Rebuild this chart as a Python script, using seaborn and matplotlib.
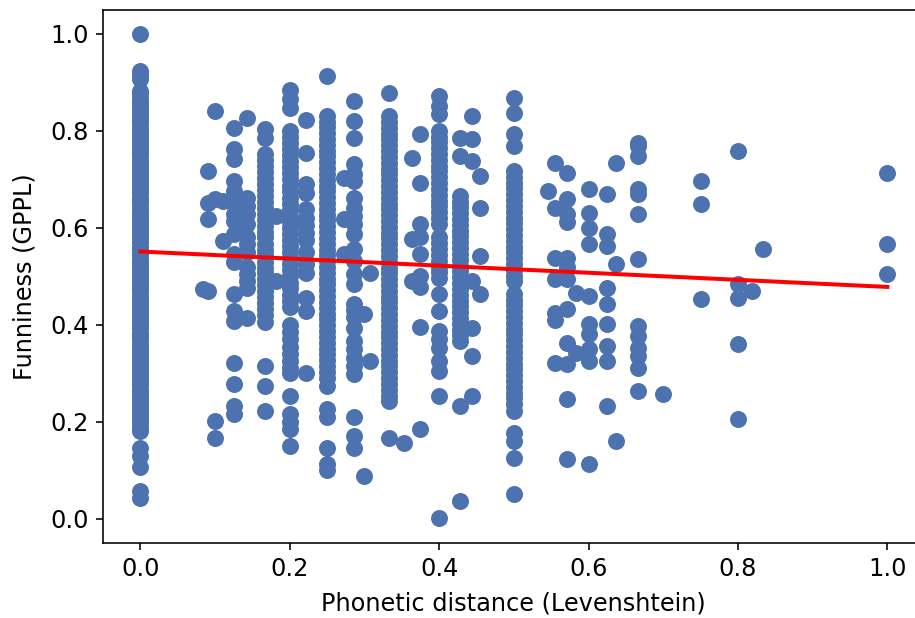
import numpy as np
import pandas as pd
import matplotlib
matplotlib.use("Agg")
import matplotlib.pyplot as plt
import seaborn as sns

# ---- data: funniness values per phonetic-distance column ----
y_d0 = [1.0, 0.924, 0.915, 0.907, 0.882, 0.875, 0.866, 0.858, 0.85, 0.84, 0.832, 0.825,
        0.815, 0.806, 0.798, 0.79, 0.781, 0.772, 0.765, 0.756, 0.747, 0.738, 0.73, 0.722,
        0.713, 0.705, 0.696, 0.688, 0.679, 0.671, 0.662, 0.655, 0.646, 0.637, 0.629, 0.62,
        0.612, 0.603, 0.595, 0.587, 0.578, 0.57, 0.561, 0.553, 0.545, 0.536, 0.528, 0.519,
        0.511, 0.502, 0.494, 0.486, 0.477, 0.469, 0.46, 0.452, 0.443, 0.435, 0.427, 0.418,
        0.41, 0.401, 0.393, 0.384, 0.376, 0.368, 0.359, 0.351, 0.342, 0.334, 0.325, 0.317,
        0.309, 0.3, 0.292, 0.283, 0.275, 0.266, 0.258, 0.25, 0.241, 0.233, 0.224, 0.216,
        0.207, 0.199, 0.19, 0.181, 0.145, 0.13, 0.107, 0.058, 0.043]
y_d1_12 = [0.474]
y_d1_11 = [0.717, 0.652, 0.619, 0.47]
y_d1_10 = [0.841, 0.66, 0.202, 0.167]
y_d1_9 = [0.573, 0.655]
y_d1_8 = [0.806, 0.763, 0.742, 0.697, 0.676, 0.649, 0.629, 0.614, 0.588, 0.545, 0.53,
          0.464, 0.429, 0.408, 0.322, 0.278, 0.233, 0.216]
y_d1_7 = [0.827, 0.662, 0.645, 0.628, 0.608, 0.58, 0.567, 0.55, 0.52, 0.505, 0.49, 0.476, 0.414]
y_d1_6 = [0.804, 0.786, 0.752, 0.74, 0.728, 0.715, 0.703, 0.69, 0.678, 0.665, 0.653, 0.641,
          0.628, 0.616, 0.604, 0.592, 0.58, 0.567, 0.555, 0.543, 0.53, 0.518, 0.506, 0.494,
          0.481, 0.469, 0.457, 0.445, 0.432, 0.42, 0.405, 0.315, 0.274, 0.223]
y_d2_11 = [0.625, 0.49]
y_d1_5 = [0.885, 0.866, 0.846, 0.8, 0.788, 0.775, 0.762, 0.75, 0.737, 0.725, 0.712, 0.7,
          0.687, 0.675, 0.662, 0.65, 0.637, 0.625, 0.612, 0.6, 0.587, 0.575, 0.562, 0.55,
          0.537, 0.525, 0.512, 0.5, 0.487, 0.475, 0.462, 0.45, 0.437, 0.4, 0.385, 0.37,
          0.355, 0.34, 0.325, 0.31, 0.3, 0.254, 0.216, 0.2, 0.186, 0.15]
y_d2_9 = [0.822, 0.755, 0.69, 0.672, 0.638, 0.62, 0.606, 0.59, 0.575, 0.55, 0.525, 0.507,
          0.456, 0.429, 0.3]
y_d1_4 = [0.913, 0.831, 0.819, 0.807, 0.795, 0.783, 0.771, 0.759, 0.747, 0.735, 0.723,
          0.711, 0.699, 0.687, 0.675, 0.663, 0.651, 0.639, 0.627, 0.615, 0.603, 0.591,
          0.579, 0.567, 0.555, 0.543, 0.531, 0.519, 0.507, 0.495, 0.483, 0.471, 0.459,
          0.447, 0.435, 0.423, 0.411, 0.399, 0.387, 0.375, 0.363, 0.351, 0.339, 0.327,
          0.315, 0.303, 0.291, 0.274, 0.227, 0.209, 0.146, 0.113, 0.1]
y_d3_11 = [0.703, 0.618, 0.546]
y_d2_7 = [0.862, 0.82, 0.786, 0.731, 0.71, 0.697, 0.662, 0.641, 0.625, 0.608, 0.587, 0.556,
          0.532, 0.505, 0.484, 0.443, 0.43, 0.415, 0.394, 0.367, 0.35, 0.332, 0.315, 0.299,
          0.209, 0.171, 0.146]
y_d3_10 = [0.422, 0.089]
y_d4_13 = [0.507, 0.326]
y_d1_3 = [0.878, 0.83, 0.818, 0.806, 0.794, 0.782, 0.77, 0.758, 0.746, 0.734, 0.722, 0.71,
          0.698, 0.686, 0.674, 0.662, 0.65, 0.638, 0.626, 0.614, 0.602, 0.59, 0.578, 0.566,
          0.554, 0.542, 0.53, 0.518, 0.506, 0.494, 0.482, 0.47, 0.458, 0.446, 0.434, 0.422,
          0.41, 0.398, 0.386, 0.374, 0.362, 0.35, 0.338, 0.326, 0.314, 0.302, 0.29, 0.278,
          0.266, 0.254, 0.243, 0.167]
y_d6_17 = [0.157]
y_d4_11 = [0.744, 0.577, 0.49]
y_d3_8 = [0.794, 0.693, 0.608, 0.58, 0.546, 0.5, 0.477, 0.395, 0.186]
y_d2_5 = [0.872, 0.852, 0.835, 0.8, 0.788, 0.776, 0.764, 0.752, 0.74, 0.728, 0.716, 0.704,
          0.692, 0.68, 0.668, 0.656, 0.644, 0.632, 0.62, 0.608, 0.58, 0.568, 0.556, 0.544,
          0.532, 0.52, 0.508, 0.496, 0.464, 0.429, 0.388, 0.37, 0.353, 0.326, 0.305, 0.254,
          0.002]
y_d3_7 = [0.786, 0.748, 0.666, 0.654, 0.642, 0.63, 0.618, 0.606, 0.594, 0.582, 0.57, 0.558,
          0.546, 0.534, 0.522, 0.51, 0.498, 0.486, 0.474, 0.462, 0.45, 0.438, 0.426, 0.414,
          0.402, 0.39, 0.378, 0.367, 0.233, 0.037]
y_d4_9 = [0.831, 0.783, 0.738, 0.49, 0.394, 0.336, 0.254]
y_d5_11 = [0.707, 0.641, 0.542, 0.464]
y_d1_2 = [0.868, 0.837, 0.794, 0.769, 0.717, 0.705, 0.693, 0.681, 0.669, 0.657, 0.645,
          0.633, 0.621, 0.609, 0.597, 0.585, 0.573, 0.561, 0.549, 0.537, 0.525, 0.513,
          0.501, 0.49, 0.464, 0.452, 0.44, 0.428, 0.416, 0.404, 0.392, 0.38, 0.368, 0.356,
          0.344, 0.332, 0.32, 0.308, 0.296, 0.284, 0.272, 0.26, 0.248, 0.236, 0.223, 0.177,
          0.161, 0.126, 0.051]
y_d6_11 = [0.676]
y_d5_9 = [0.734, 0.641, 0.538, 0.495, 0.425, 0.41, 0.322]
y_d4_7 = [0.713, 0.66, 0.629, 0.611, 0.538, 0.52, 0.495, 0.433, 0.363, 0.32, 0.247, 0.124]
y_d7_12 = [0.466, 0.342]
y_d3_5 = [0.68, 0.631, 0.6, 0.567, 0.46, 0.402, 0.381, 0.35, 0.326, 0.113]
y_d5_8 = [0.67, 0.587, 0.563, 0.476, 0.443, 0.402, 0.357, 0.326, 0.233]
y_d7_11 = [0.734, 0.526, 0.161]
y_d2_3 = [0.775, 0.769, 0.748, 0.68, 0.67, 0.629, 0.536, 0.398, 0.377, 0.353, 0.336, 0.311, 0.264]
y_d7_10 = [0.258]
y_d3_4 = [0.697, 0.649, 0.454]
y_d4_5 = [0.759, 0.484, 0.456, 0.361, 0.206]
y_d9_11 = [0.47]
y_d5_6 = [0.557]
y_d1_1 = [0.713, 0.567, 0.505]

distances = [0.0, 1/12, 1/11, 0.1, 1/9, 0.125, 1/7, 1/6, 2/11, 0.2, 2/9, 0.25, 3/11, 2/7,
             0.3, 4/13, 1/3, 6/17, 4/11, 0.375, 0.4, 3/7, 4/9, 5/11, 0.5, 6/11, 5/9, 4/7,
             7/12, 0.6, 0.625, 7/11, 2/3, 0.7, 0.75, 0.8, 9/11, 5/6, 1.0]
columns = [y_d0, y_d1_12, y_d1_11, y_d1_10, y_d1_9, y_d1_8, y_d1_7, y_d1_6, y_d2_11, y_d1_5,
           y_d2_9, y_d1_4, y_d3_11, y_d2_7, y_d3_10, y_d4_13, y_d1_3, y_d6_17, y_d4_11,
           y_d3_8, y_d2_5, y_d3_7, y_d4_9, y_d5_11, y_d1_2, y_d6_11, y_d5_9, y_d4_7, y_d7_12,
           y_d3_5, y_d5_8, y_d7_11, y_d2_3, y_d7_10, y_d3_4, y_d4_5, y_d9_11, y_d5_6, y_d1_1]

# regression line
fit_intercept = 0.551
fit_slope = -0.073

xs, ys = [], []
for d, col in zip(distances, columns):
    xs.extend([d] * len(col))
    ys.extend(col)
df = pd.DataFrame({"dist": xs, "fun": ys})

line_x = np.array([0.0, 1.0])
line_df = pd.DataFrame({"dist": line_x, "fun": fit_intercept + fit_slope * line_x})

# ---- figure ----
DPI = 144
fig = plt.figure(figsize=(915 / DPI, 618 / DPI), dpi=DPI)
ax = fig.add_axes([103 / 915, 75 / 618, 821.7 / 915, 533.5 / 618])

sns.scatterplot(data=df, x="dist", y="fun", color="#4C72B0", s=72, linewidth=0,
                ax=ax, zorder=2)
sns.lineplot(data=line_df, x="dist", y="fun", color="red", linewidth=2, ax=ax, zorder=3)

ax.set_xlim(-0.05, 1.05)
ax.set_ylim(-0.05, 1.05)
ax.set_xticks([0.0, 0.2, 0.4, 0.6, 0.8, 1.0])
ax.set_yticks([0.0, 0.2, 0.4, 0.6, 0.8, 1.0])
ax.spines["right"].set_visible(False)
ax.set_xlabel("Phonetic distance (Levenshtein)", fontsize=12, labelpad=5.5)
ax.set_ylabel("Funniness (GPPL)", fontsize=12, labelpad=7)
ax.tick_params(labelsize=12)

fig.savefig("out.png", dpi=DPI)
